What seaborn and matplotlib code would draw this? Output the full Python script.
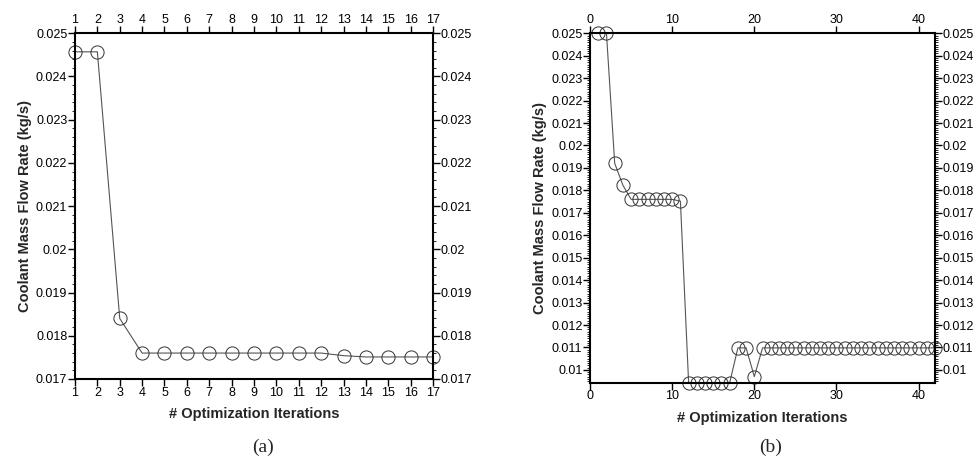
import matplotlib
matplotlib.use("Agg")
import matplotlib.pyplot as plt
import seaborn as sns
import pandas as pd
from matplotlib.ticker import MultipleLocator, FuncFormatter

# (a) coolant mass flow rate per optimization iteration
iter_a = list(range(1, 18))
flow_a = [0.02457, 0.02457, 0.01840, 0.01760, 0.01760, 0.01760, 0.01760, 0.01760,
          0.01760, 0.01760, 0.01760, 0.01760, 0.01754, 0.01751, 0.01751, 0.01751, 0.01751]

# (b)
iter_b = list(range(1, 43))
flow_b = ([0.02500, 0.02500, 0.01921, 0.01823]
          + [0.01760] * 6 + [0.01752]
          + [0.00943] * 6
          + [0.01098, 0.01098, 0.00970]
          + [0.01098] * 22)

sns.set_style("ticks")
plt.rcParams["font.family"] = ["Liberation Sans", "DejaVu Sans"]

fig = plt.figure(figsize=(9.79, 4.61), dpi=100)
ax_a = fig.add_axes([0.0766, 0.1779, 0.3657, 0.7500])
ax_b = fig.add_axes([0.6027, 0.1699, 0.3524, 0.7579])

fmt = FuncFormatter(lambda v, p: f"{v:g}")


def draw(ax, x, y):
    df = pd.DataFrame({"it": x, "flow": y})
    sns.lineplot(data=df, x="it", y="flow", ax=ax, color="#555555", linewidth=0.8,
                 marker="o", markersize=9.5, markerfacecolor="none",
                 markeredgecolor="#333333", markeredgewidth=0.7,
                 estimator=None, clip_on=False)
    for s in ax.spines.values():
        s.set_visible(True)
        s.set_linewidth(1.5)
        s.set_color("black")
    ax.tick_params(which="both", direction="out", top=True, right=True,
                   labeltop=True, labelright=True, labelsize=9, colors="black", pad=0.5)
    ax.tick_params(which="major", length=5, width=1.0)
    ax.tick_params(which="minor", length=2.5, width=0.6)
    ax.yaxis.set_major_formatter(fmt)
    ax.set_xlabel("# Optimization Iterations", fontsize=10.5, fontweight="bold", labelpad=6)
    ax.set_ylabel("Coolant Mass Flow Rate (kg/s)", fontsize=10.5, fontweight="bold", labelpad=3)


draw(ax_a, iter_a, flow_a)
ax_a.set_xlim(1, 17)
ax_a.set_ylim(0.017, 0.025)
ax_a.set_xticks(iter_a)
ax_a.yaxis.set_major_locator(MultipleLocator(0.001))
ax_a.yaxis.set_minor_locator(MultipleLocator(0.0002))

draw(ax_b, iter_b, flow_b)
ax_b.set_xlim(0, 42)
ax_b.set_ylim(min(flow_b), 0.025)
ax_b.set_xticks([0, 10, 20, 30, 40])
ax_b.yaxis.set_major_locator(MultipleLocator(0.001))
ax_b.yaxis.set_minor_locator(MultipleLocator(0.0001))

fig.text(0.2685, 0.030, "(a)", family=["Liberation Serif", "DejaVu Serif"], fontsize=14,
         ha="center", va="center")
fig.text(0.7866, 0.030, "(b)", family=["Liberation Serif", "DejaVu Serif"], fontsize=14,
         ha="center", va="center")

fig.savefig("out.png", dpi=100)
